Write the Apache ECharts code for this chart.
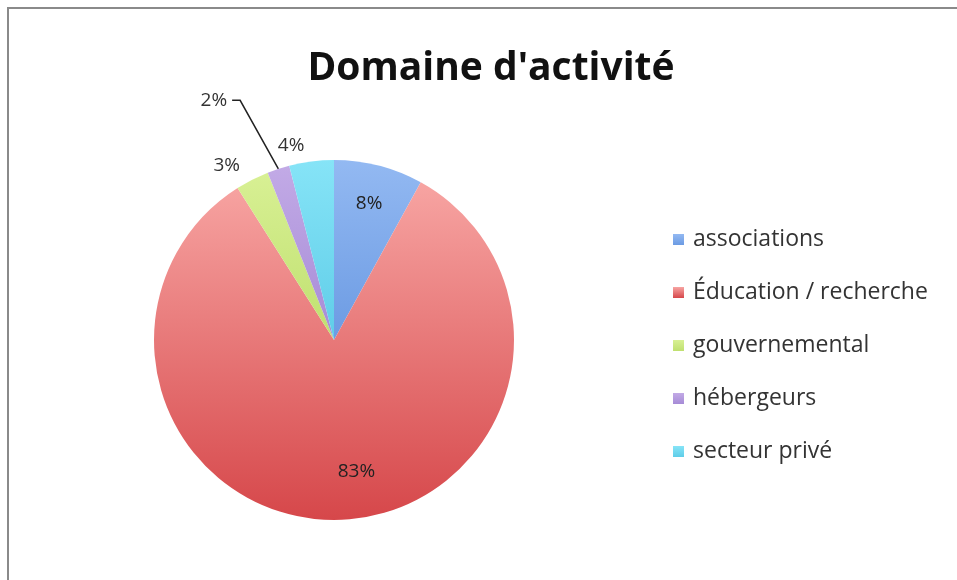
<!DOCTYPE html>
<html>
<head>
<meta charset="utf-8">
<script src="https://cdn.jsdelivr.net/npm/echarts@6/dist/echarts.min.js"></script>
<style>
  html, body { margin: 0; padding: 0; background: #fff; }
  #chart { width: 957px; height: 580px; }
</style>
</head>
<body>
<div id="chart"></div>
<script>
const categories = ['associations', 'Éducation / recherche', 'gouvernemental', 'hébergeurs', 'secteur privé'];
const percents = [8, 83, 3, 2, 4];
// top / bottom colour of each slice gradient
const topColors = ['#93b9f2', '#f7a4a2', '#d8f094', '#c2aae6', '#86e4f7'];
const bottomColors = ['#6c9be3', '#d6474a', '#bfe06f', '#a68bd6', '#5fcde8'];
const insideLabels = [true, true, false, false, false];

const chart = echarts.init(document.getElementById('chart'));

const fill = (i) => ({
  type: 'linear', x: 0, y: 0, x2: 0, y2: 1,
  colorStops: [
    { offset: 0, color: topColors[i] },
    { offset: 1, color: bottomColors[i] }
  ]
});

const pieData = categories.map((name, i) => ({
  name,
  value: percents[i],
  itemStyle: { color: fill(i) },
  label: { show: !insideLabels[i] },
  labelLine: i === 3
    ? { show: true, length: 72, length2: 8, lineStyle: { color: '#222', width: 1.5 } }
    : { show: false, length: 16, length2: 0 }
}));

// transparent ring, only used to put the inside labels further out
const labelRing = categories.map((name, i) => ({
  name,
  value: percents[i],
  label: { show: insideLabels[i] }
}));

// pull the leader line of the small slice a bit more to the left, like the original
const leaderShift = 16;
const shiftLeader = (params) => {
  if (params.dataIndex !== 3 || !params.labelLinePoints) return {};
  const pts = params.labelLinePoints;
  return {
    dx: -leaderShift,
    labelLinePoints: [
      pts[0],
      [pts[1][0] - leaderShift, pts[1][1]],
      [pts[2][0] - leaderShift, pts[2][1]]
    ]
  };
};

// the big slice's label sits a little right of the slice middle in the original
const nudgeBigLabel = (params) => (params.dataIndex === 1 ? { dx: 18, dy: -9 } : {});

const option = {
  animation: false,
  backgroundColor: '#fff',
  title: {
    text: "Domaine d'activité",
    left: 486,
    top: 44,
    textAlign: 'center',
    textStyle: { fontFamily: 'Open Sans', fontSize: 39, fontWeight: 'bold', color: '#111' }
  },
  graphic: [{
    type: 'polyline',
    shape: { points: [[8, 600], [8, 8], [980, 8]] },
    style: { stroke: '#8a8a8a', lineWidth: 2, fill: null },
    silent: true
  }],
  legend: {
    orient: 'vertical',
    left: 668,
    top: 223,
    itemWidth: 11,
    itemHeight: 11,
    itemGap: 30,
    icon: 'rect',
    textStyle: { fontFamily: 'Open Sans', fontSize: 23, lineHeight: 23, color: '#333', padding: [0, 0, 0, 4] },
    data: categories
  },
  series: [
    {
      type: 'pie',
      center: [334, 340],
      radius: [0, 180],
      startAngle: 90,
      clockwise: true,
      avoidLabelOverlap: false,
      silent: true,
      label: {
        position: 'outside',
        formatter: '{c}%',
        fontFamily: 'Open Sans',
        fontSize: 19,
        color: '#333'
      },
      labelLayout: shiftLeader,
      data: pieData
    },
    {
      type: 'pie',
      center: [334, 340],
      radius: [96, 180],
      startAngle: 90,
      clockwise: true,
      silent: true,
      legendHoverLink: false,
      itemStyle: { color: 'rgba(0,0,0,0)' },
      labelLine: { show: false },
      label: {
        position: 'inside',
        formatter: '{c}%',
        fontFamily: 'Open Sans',
        fontSize: 19,
        color: '#222'
      },
      labelLayout: nudgeBigLabel,
      data: labelRing
    }
  ]
};

chart.setOption(option);
</script>
</body>
</html>
